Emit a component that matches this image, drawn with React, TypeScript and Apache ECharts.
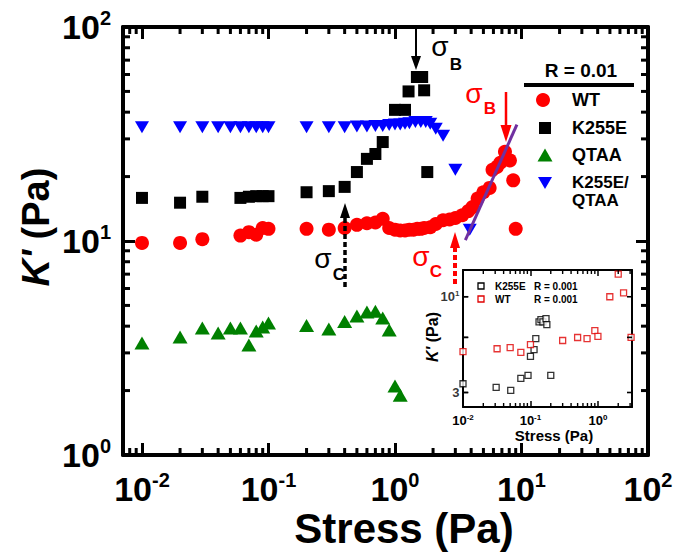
import React, { useEffect, useRef } from 'react';
import * as echarts from 'echarts';

const FONT = "'Liberation Sans', Arial, Helvetica, sans-serif";

// ---------- Main chart data (Stress in Pa, K' in Pa) ----------
const wtStress = [0.01, 0.02, 0.03, 0.06, 0.07, 0.08, 0.09, 0.1, 0.2, 0.3, 0.4, 0.5, 0.6, 0.7, 0.8, 0.9, 1.0, 1.1, 1.2, 1.3, 1.4, 1.5, 1.6, 1.7, 1.9, 2.1, 2.4, 2.7, 3.0, 3.4, 3.8, 4.1, 4.5, 5.0, 5.6, 5.9, 6.4, 6.8, 7.4, 8.1, 8.6, 9.0];
const wtK = [9.8, 9.8, 10.2, 10.6, 11.0, 10.7, 11.5, 11.4, 11.4, 11.3, 11.5, 11.9, 12.1, 12.2, 12.7, 11.5, 11.3, 11.2, 11.2, 11.3, 11.3, 11.4, 11.4, 11.5, 11.6, 12.0, 12.5, 12.6, 12.8, 13.2, 13.8, 14.4, 15.8, 16.9, 17.7, 21.5, 22.2, 23.2, 26.1, 23.8, 19.2, 11.4];

const k255eStress = [0.01, 0.02, 0.03, 0.06, 0.07, 0.08, 0.09, 0.1, 0.2, 0.3, 0.4, 0.5, 0.6, 0.7, 0.8, 1.0, 1.2, 1.28, 1.49, 1.64, 1.7, 1.8];
const k255eK = [15.9, 15.1, 16.1, 15.9, 16.1, 16.2, 16.2, 16.2, 16.9, 17.1, 17.9, 21.0, 24.2, 25.5, 29.0, 41.0, 41.0, 50.0, 58.4, 58.4, 50.6, 21.0];

const qtaaStress = [0.01, 0.02, 0.03, 0.04, 0.05, 0.06, 0.07, 0.08, 0.09, 0.1, 0.2, 0.3, 0.4, 0.5, 0.6, 0.7, 0.8, 0.9, 1.0, 1.1];
const qtaaK = [3.34, 3.56, 3.92, 3.72, 3.92, 3.92, 3.27, 3.8, 3.96, 4.14, 4.03, 3.88, 4.2, 4.46, 4.66, 4.7, 4.37, 3.84, 2.1, 1.9];

const dblStress = [0.01, 0.02, 0.03, 0.04, 0.05, 0.06, 0.07, 0.08, 0.09, 0.1, 0.2, 0.3, 0.4, 0.5, 0.6, 0.7, 0.8, 0.9, 1.0, 1.1, 1.2, 1.3, 1.45, 1.6, 1.75, 1.9, 2.1, 2.4, 3.0, 3.9];
const dblK = [34, 34, 34, 34, 34, 34, 34, 34, 34, 34, 34, 34, 34, 34.3, 34.3, 34.5, 34.5, 34.8, 35, 35, 35.3, 35.5, 36, 36, 36, 35.3, 33.5, 31, 21.5, 11.3];

const fitStress = [3.6, 9.2];
const fitK = [10.1, 35];

// ---------- Inset data ----------
const insetK255eStress = [0.01, 0.031, 0.051, 0.072, 0.092, 0.1, 0.113, 0.12, 0.134, 0.143, 0.153, 0.17, 0.175, 0.2];
const insetK255eK = [3.35, 3.2, 3.08, 3.58, 3.72, 4.72, 5.15, 5.9, 7.3, 7.5, 7.3, 7.6, 7.05, 3.72];
const insetWtStress = [0.01, 0.032, 0.05, 0.072, 0.1, 0.3, 0.5, 0.69, 0.9, 1.0, 1.5, 2.0, 2.4, 3.1];
const insetWtK = [5.02, 5.2, 5.28, 4.97, 5.48, 5.77, 5.99, 5.9, 6.53, 6.07, 10.0, 13.3, 10.5, 6.0];

// ---------- Axes ----------
const mainXRange = [0.00708, 100];
const mainYRange = [1, 100];
const insetXRange = [0.01, 3.2];
const insetYRange = [2.5, 14];
const mainXMinorTicks = [0.008, 0.009, 0.02, 0.03, 0.04, 0.05, 0.06, 0.07, 0.08, 0.09, 0.2, 0.3, 0.4, 0.5, 0.6, 0.7, 0.8, 0.9, 2, 3, 4, 5, 6, 7, 8, 9, 20, 30, 40, 50, 60, 70, 80, 90];
const mainYMinorTicks = [2, 3, 4, 5, 6, 7, 8, 9, 20, 30, 40, 50, 60, 70, 80, 90];
const insetXMinorTicks = [0.02, 0.03, 0.04, 0.05, 0.06, 0.07, 0.08, 0.09, 0.2, 0.3, 0.4, 0.5, 0.6, 0.7, 0.8, 0.9, 2, 3];
const insetYTicks = [3, 6, 10];
const insetYTickLabels = ['3', '', '{b|10}{s|1}'];

const pairs = (xs: number[], ys: number[]) => xs.map((x, i) => [x, ys[i]]);

const supLabel = (v: number) => {
  const l = Math.log10(v);
  const e = Math.round(l);
  if (Math.abs(l - e) > 1e-4) return '';
  return `{b|10}{s|${e}}`;
};

const mainRich = {
  b: { fontSize: 34, fontWeight: 'bold', fontFamily: FONT, color: '#000', lineHeight: 38 },
  s: { fontSize: 20, fontWeight: 'bold', fontFamily: FONT, color: '#000', lineHeight: 16, verticalAlign: 'top' },
};
const insetRich = {
  b: { fontSize: 13, fontWeight: 'bold', fontFamily: FONT, color: '#000', lineHeight: 15 },
  s: { fontSize: 8, fontWeight: 'bold', fontFamily: FONT, color: '#000', lineHeight: 7, verticalAlign: 'top' },
};

const DOWN_TRI = 'path://M0,0L10,0L5,8.66Z';

function logAxis(range: number[], grid: number, pos: string, opts: any) {
  return {
    type: 'log',
    logBase: 10,
    min: range[0],
    max: range[1],
    gridIndex: grid,
    position: pos,
    splitLine: { show: false },
    minorTick: { show: false },
    ...opts,
  };
}

const T = (text: string, x: number, y: number, size: number, color = '#000', weight = 'bold', align = 'center') => ({
  type: 'text', x, y, z: 20,
  style: { text, fontSize: size, fontWeight: weight, fontFamily: FONT, fill: color, align, verticalAlign: 'middle' },
});

const R = (x: number, y: number, w: number, h: number) => ({
  type: 'rect', z: 25, shape: { x, y, width: w, height: h }, style: { fill: '#000' },
});

const baseGraphic: any[] = [
  {
    type: 'text', x: 404, y: 528, z: 20,
    style: { text: 'Stress (Pa)', fontSize: 42, fontWeight: 'bold', fontFamily: FONT, fill: '#000', align: 'center', verticalAlign: 'middle' },
  },
  {
    type: 'text', x: 36, y: 227, rotation: Math.PI / 2, z: 20,
    style: {
      text: "{i|K'}{n| (Pa)}", align: 'center', verticalAlign: 'middle',
      rich: {
        i: { fontSize: 38, fontWeight: 'bold', fontStyle: 'italic', fontFamily: FONT, color: '#000' },
        n: { fontSize: 38, fontWeight: 'bold', fontFamily: FONT, color: '#000' },
      },
    },
  },
  {
    type: 'text', x: 554, y: 435, z: 20,
    style: { text: 'Stress (Pa)', fontSize: 15, fontWeight: 'bold', fontFamily: FONT, fill: '#000', align: 'center', verticalAlign: 'middle' },
  },
  {
    type: 'text', x: 432, y: 337, rotation: Math.PI / 2, z: 20,
    style: {
      text: "{i|K'}{n| (Pa)}", align: 'center', verticalAlign: 'middle',
      rich: {
        i: { fontSize: 16, fontWeight: 'bold', fontStyle: 'italic', fontFamily: FONT, color: '#000' },
        n: { fontSize: 16, fontWeight: 'bold', fontFamily: FONT, color: '#000' },
      },
    },
  },
  T('R = 0.01', 581, 70, 19),
  { type: 'rect', z: 20, shape: { x: 524, y: 83, width: 110, height: 4 }, style: { fill: '#000' } },
  { type: 'circle', z: 20, shape: { cx: 543, cy: 100, r: 7 }, style: { fill: '#FF0000' } },
  { type: 'rect', z: 20, shape: { x: 539, y: 122, width: 12, height: 12 }, style: { fill: '#000' } },
  { type: 'polygon', z: 20, shape: { points: [[537.5, 161.5], [552.5, 161.5], [545, 148.5]] }, style: { fill: '#008000' } },
  { type: 'polygon', z: 20, shape: { points: [[538, 177], [552, 177], [545, 189]] }, style: { fill: '#0000FF' } },
  T('WT', 572, 100, 18, '#000', 'bold', 'left'),
  T('K255E', 572, 128, 18, '#000', 'bold', 'left'),
  T('QTAA', 572, 155, 18, '#000', 'bold', 'left'),
  T('K255E/', 572, 182, 17, '#000', 'bold', 'left'),
  T('QTAA', 572, 200, 17, '#000', 'bold', 'left'),
  { type: 'rect', z: 20, shape: { x: 478, y: 283, width: 6, height: 6 }, style: { fill: '#fff', stroke: '#000', lineWidth: 1.3 } },
  { type: 'rect', z: 20, shape: { x: 478, y: 296, width: 6, height: 6 }, style: { fill: '#fff', stroke: '#E00000', lineWidth: 1.3 } },
  T('K255E', 495, 286, 10, '#000', 'bold', 'left'),
  T('R = 0.001', 534, 286, 10, '#000', 'bold', 'left'),
  T('WT', 495, 299, 10, '#000', 'bold', 'left'),
  T('R = 0.001', 534, 299, 10, '#000', 'bold', 'left'),
  { type: 'line', z: 20, shape: { x1: 416, y1: 28, x2: 416, y2: 58 }, style: { stroke: '#000', lineWidth: 2 } },
  { type: 'polygon', z: 20, shape: { points: [[411, 56], [421, 56], [416, 70]] }, style: { fill: '#000' } },
  T('σ', 440, 46, 28, '#000', 'normal'),
  T('B', 456, 64, 17),
  { type: 'line', z: 20, shape: { x1: 506, y1: 92, x2: 506, y2: 128 }, style: { stroke: '#FF0000', lineWidth: 2.5 } },
  { type: 'polygon', z: 20, shape: { points: [[500.5, 125], [511.5, 125], [506, 142]] }, style: { fill: '#FF0000' } },
  T('σ', 474, 93, 28, '#FF0000', 'normal'),
  T('B', 490, 108, 17, '#FF0000'),
  { type: 'line', z: 20, shape: { x1: 455, y1: 284, x2: 455, y2: 247 }, style: { stroke: '#FF0000', lineWidth: 4, lineDash: [5, 3] } },
  { type: 'polygon', z: 20, shape: { points: [[450, 248], [460, 248], [455, 232]] }, style: { fill: '#FF0000' } },
  T('σ', 421, 256, 28, '#FF0000', 'normal'),
  T('C', 436, 271, 17, '#FF0000'),
  { type: 'line', z: 20, shape: { x1: 345, y1: 287, x2: 345, y2: 216 }, style: { stroke: '#000', lineWidth: 3.5, lineDash: [5, 3] } },
  { type: 'polygon', z: 20, shape: { points: [[340, 218], [350, 218], [345, 203]] }, style: { fill: '#000' } },
  T('σ', 323, 258, 28, '#000', 'normal'),
  T('C', 339, 274, 17),
];

export default function App() {
  const ref = useRef<HTMLDivElement>(null);
  useEffect(() => {
    if (!ref.current) return;
    const chart = echarts.init(ref.current, undefined, { renderer: 'svg' });
    const mainLine = { show: true, onZero: false, lineStyle: { color: '#000', width: 4 } };
    const insetLine = { show: true, onZero: false, lineStyle: { color: '#000', width: 2 } };
    const mainTick = { show: true, inside: true, length: 12, lineStyle: { color: '#000', width: 3 } };
    const insetTick = { show: true, inside: true, length: 6, lineStyle: { color: '#000', width: 1.5 } };

    const option: any = {
      animation: false,
      backgroundColor: '#fff',
      grid: [
        { left: 123, top: 27, width: 525, height: 428, show: false },
        { left: 463, top: 270, width: 169, height: 137, show: true, backgroundColor: '#fff', borderWidth: 0 },
      ],
      xAxis: [
        logAxis(mainXRange, 0, 'bottom', {
          axisLine: mainLine, axisTick: mainTick,
          axisLabel: { margin: 15, formatter: supLabel, rich: mainRich, showMinLabel: true, showMaxLabel: true, hideOverlap: false },
        }),
        logAxis(mainXRange, 0, 'top', { axisLine: mainLine, axisTick: mainTick, axisLabel: { show: false } }),
        logAxis(insetXRange, 1, 'bottom', {
          axisLine: insetLine, axisTick: insetTick,
          axisLabel: { margin: 6, formatter: supLabel, rich: insetRich, showMinLabel: true, showMaxLabel: true, hideOverlap: false },
        }),
        logAxis(insetXRange, 1, 'top', { axisLine: insetLine, axisTick: insetTick, axisLabel: { show: false } }),
      ],
      yAxis: [
        logAxis(mainYRange, 0, 'left', {
          axisLine: mainLine, axisTick: mainTick,
          axisLabel: { margin: 12, formatter: supLabel, rich: mainRich, showMinLabel: true, showMaxLabel: true, hideOverlap: false },
        }),
        logAxis(mainYRange, 0, 'right', { axisLine: mainLine, axisTick: mainTick, axisLabel: { show: false } }),
        logAxis(insetYRange, 1, 'left', { axisLine: insetLine, axisTick: { show: false }, axisLabel: { show: false } }),
        logAxis(insetYRange, 1, 'right', { axisLine: insetLine, axisTick: { show: false }, axisLabel: { show: false } }),
      ],
      series: [
        { name: 'WT', type: 'scatter', data: pairs(wtStress, wtK), symbol: 'circle', symbolSize: 14, itemStyle: { color: '#FF0000', opacity: 1 }, z: 2 },
        { name: 'K255E', type: 'scatter', data: pairs(k255eStress, k255eK), symbol: 'rect', symbolSize: 12, itemStyle: { color: '#000000', opacity: 1 }, z: 2 },
        { name: 'QTAA', type: 'scatter', data: pairs(qtaaStress, qtaaK), symbol: 'triangle', symbolSize: [15, 13], itemStyle: { color: '#008000', opacity: 1 }, z: 2 },
        { name: 'K255E/QTAA', type: 'scatter', data: pairs(dblStress, dblK), symbol: DOWN_TRI, symbolSize: [14, 12], itemStyle: { color: '#0000FF', opacity: 1 }, z: 2 },
        { name: 'fit', type: 'line', data: pairs(fitStress, fitK), showSymbol: false, symbol: 'none', lineStyle: { color: '#7030A0', width: 3 }, z: 4, silent: true },
        { name: 'K255E R = 0.001', type: 'scatter', xAxisIndex: 2, yAxisIndex: 2, data: pairs(insetK255eStress, insetK255eK), symbol: 'rect', symbolSize: 6, itemStyle: { color: '#fff', borderColor: '#000', borderWidth: 1.3 }, z: 5 },
        { name: 'WT R = 0.001', type: 'scatter', xAxisIndex: 2, yAxisIndex: 2, data: pairs(insetWtStress, insetWtK), symbol: 'rect', symbolSize: 6, itemStyle: { color: '#fff', borderColor: '#E00000', borderWidth: 1.3 }, z: 5 },
        {
          name: 'inset y labels', type: 'scatter', xAxisIndex: 2, yAxisIndex: 2, silent: true, clip: false,
          data: insetYTicks.map((v) => [insetXRange[0], v]),
          symbol: 'rect', symbolSize: [5, 1.5], symbolOffset: [3, 0], itemStyle: { color: '#000' },
          label: {
            show: true, position: 'left', distance: 4, color: '#000',
            formatter: (p: any) => insetYTickLabels[p.dataIndex], rich: insetRich,
            fontSize: 13, fontWeight: 'bold', fontFamily: FONT,
          },
        },
      ],
      graphic: baseGraphic,
    };
    chart.setOption(option);

    // minor tick marks, positioned through the axes' own scales
    const tickEls: any[] = [];
    const P = (seriesIndex: number, pt: number[]) => {
      try {
        const r = chart.convertToPixel({ seriesIndex } as any, pt) as any;
        return Array.isArray(r) && isFinite(r[0]) && isFinite(r[1]) ? r : null;
      } catch (e) {
        return null;
      }
    };
    const xTicks = (si: number, vals: number[], yr: number[], len: number, w: number) => {
      vals.forEach((v) => {
        const b = P(si, [v, yr[0]]);
        const t = P(si, [v, yr[1]]);
        if (b) tickEls.push(R(b[0] - w / 2, b[1] - len, w, len));
        if (t) tickEls.push(R(t[0] - w / 2, t[1], w, len));
      });
    };
    const yTicks = (si: number, vals: number[], xr: number[], len: number, w: number) => {
      vals.forEach((v) => {
        const l = P(si, [xr[0], v]);
        const r = P(si, [xr[1], v]);
        if (l) tickEls.push(R(l[0], l[1] - w / 2, len, w));
        if (r) tickEls.push(R(r[0] - len, r[1] - w / 2, len, w));
      });
    };
    xTicks(0, mainXMinorTicks, mainYRange, 7, 3);
    yTicks(0, mainYMinorTicks, mainXRange, 7, 3);
    xTicks(5, insetXMinorTicks, insetYRange, 4, 1.4);
    yTicks(5, insetYTicks, insetXRange, 5, 1.6);
    if (tickEls.length) chart.setOption({ graphic: [...baseGraphic, ...tickEls] });

    return () => chart.dispose();
  }, []);
  return <div ref={ref} style={{ position: 'fixed', left: 0, top: 0, width: 688, height: 557, background: '#fff' }} />;
}
